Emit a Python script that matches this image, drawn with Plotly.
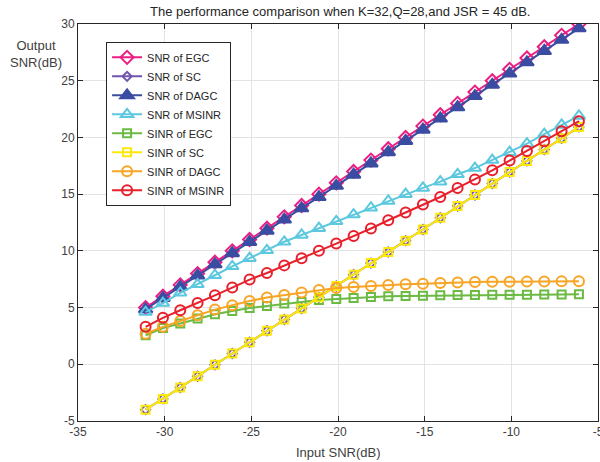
import plotly.graph_objects as go

input_snr = [-31.1, -30.1, -29.1, -28.1, -27.1, -26.1, -25.1, -24.1, -23.1, -22.1,
             -21.1, -20.1, -19.1, -18.1, -17.1, -16.1, -15.1, -14.1, -13.1, -12.1,
             -11.1, -10.1, -9.1, -8.1, -7.1, -6.1]

snr_egc = [5.0, 6.0, 7.0, 8.0, 9.0, 10.0, 11.0, 12.0, 13.0, 14.0,
           15.0, 16.0, 17.0, 18.0, 19.0, 20.0, 21.0, 22.0, 23.0, 24.0,
           25.0, 26.0, 27.0, 28.0, 29.0, 30.0]
snr_sc = [-4.0, -3.05, -2.05, -1.05, -0.05, 0.95, 1.95, 2.95, 3.95, 4.92,
          5.9, 6.9, 7.9, 8.92, 9.9, 10.9, 11.88, 12.92, 13.95, 14.92,
          15.93, 16.95, 17.93, 18.93, 19.92, 20.93]
snr_dagc = [4.85, 5.84, 6.83, 7.82, 8.81, 9.8, 10.79, 11.78, 12.76, 13.75,
            14.74, 15.73, 16.72, 17.71, 18.7, 19.69, 20.68, 21.67, 22.66, 23.65,
            24.64, 25.63, 26.62, 27.62, 28.61, 29.62]
snr_msinr = [4.6, 5.4, 6.3, 7.05, 7.85, 8.64, 9.35, 10.05, 10.8, 11.4,
             12.0, 12.6, 13.2, 13.8, 14.4, 15.0, 15.55, 16.1, 16.75, 17.3,
             18.0, 18.7, 19.45, 20.3, 21.1, 21.9]
sinr_egc = [2.56, 3.2, 3.59, 4.03, 4.41, 4.7, 4.96, 5.14, 5.35, 5.5,
            5.66, 5.76, 5.85, 5.94, 6.0, 6.03, 6.05, 6.08, 6.1, 6.11,
            6.12, 6.14, 6.14, 6.15, 6.16, 6.17]
sinr_sc = [-4.0, -3.05, -2.05, -1.05, -0.05, 0.95, 1.95, 2.95, 3.95, 4.92,
           5.9, 6.9, 7.9, 8.92, 9.9, 10.9, 11.88, 12.92, 13.95, 14.92,
           15.93, 16.95, 17.93, 18.93, 19.92, 20.93]
sinr_dagc = [2.7, 3.3, 3.82, 4.32, 4.82, 5.2, 5.58, 5.88, 6.1, 6.33,
             6.54, 6.73, 6.82, 6.91, 7.0, 7.06, 7.1, 7.17, 7.22, 7.25,
             7.27, 7.28, 7.3, 7.3, 7.31, 7.32]
sinr_msinr = [3.3, 4.1, 4.76, 5.4, 6.08, 6.76, 7.47, 8.05, 8.72, 9.35,
              10.0, 10.64, 11.3, 11.97, 12.7, 13.38, 14.08, 14.75, 15.55, 16.3,
              17.1, 17.96, 18.8, 19.67, 20.55, 21.43]

x_ticks = [-35, -30, -25, -20, -15, -10, -5]
y_ticks = [-5, 0, 5, 10, 15, 20, 25, 30]

series = [
    ("SNR of EGC", snr_egc, "#EC1E82", "diamond-open", 10),
    ("SNR of SC", snr_sc, "#7153B0", "diamond-open", 7),
    ("SNR of DAGC", snr_dagc, "#3A4DA2", "triangle-up", 12),
    ("SNR of MSINR", snr_msinr, "#5CC8DF", "triangle-up-open", 11),
    ("SINR of EGC", sinr_egc, "#6BBA44", "square-open", 8),
    ("SINR of SC", sinr_sc, "#FCE80A", "square-open", 8),
    ("SINR of DAGC", sinr_dagc, "#F8A526", "circle-open", 10),
    ("SINR of MSINR", sinr_msinr, "#E8202C", "circle-open", 10),
]

fig = go.Figure()
for name, ys, color, sym, size in series:
    fig.add_trace(go.Scatter(
        x=input_snr, y=ys, name=name, mode="lines+markers",
        line=dict(color=color, width=2),
        marker=dict(symbol=sym, size=size, color=color,
                    line=dict(color=color, width=2)),
    ))

axis_common = dict(
    showline=True, linecolor="#262626", linewidth=1, mirror="allticks",
    ticks="inside", ticklen=5, tickcolor="#262626",
    showgrid=True, gridcolor="#E3E3E3", gridwidth=1, zeroline=False,
    ticklabeloverflow="allow",
    tickfont=dict(family="Liberation Sans, Arial, sans-serif", size=12, color="#404040"),
)

fig.update_xaxes(range=[-35, -5], tickmode="array", tickvals=x_ticks,
                 ticktext=[str(v) for v in x_ticks], **axis_common)
fig.update_yaxes(range=[-5, 30], tickmode="array", tickvals=y_ticks,
                 ticktext=[str(v) for v in y_ticks], **axis_common)

fig.update_layout(
    width=600, height=462,
    margin=dict(l=78, r=2, t=24, b=41, autoexpand=False),
    paper_bgcolor="white", plot_bgcolor="white",
    font=dict(family="Liberation Sans, Arial, sans-serif", color="#262626"),
    showlegend=True,
    legend=dict(
        x=0.054, y=0.955, xanchor="left", yanchor="top",
        bgcolor="white", bordercolor="#262626", borderwidth=1,
        font=dict(size=11, color="#262626"),
        itemwidth=30, tracegroupgap=0,
    ),
    annotations=[
        dict(text="The performance comparison when K=32,Q=28,and JSR = 45 dB.",
             xref="paper", yref="paper", x=0.504, y=1.0, yshift=13,
             xanchor="center", yanchor="middle", showarrow=False,
             font=dict(size=13, color="#262626")),
        dict(text="Input SNR(dB)", xref="paper", yref="paper", x=0.5, y=0,
             yshift=-31, xanchor="center", yanchor="middle", showarrow=False,
             font=dict(size=13, color="#404040")),
        dict(text="Output<br>SNR(dB)", xref="paper", yref="paper", x=0, y=1.0,
             xshift=-42, yshift=-30, xanchor="center", yanchor="middle",
             showarrow=False, align="center",
             font=dict(size=13, color="#404040")),
    ],
)

fig.write_html("out.html")
